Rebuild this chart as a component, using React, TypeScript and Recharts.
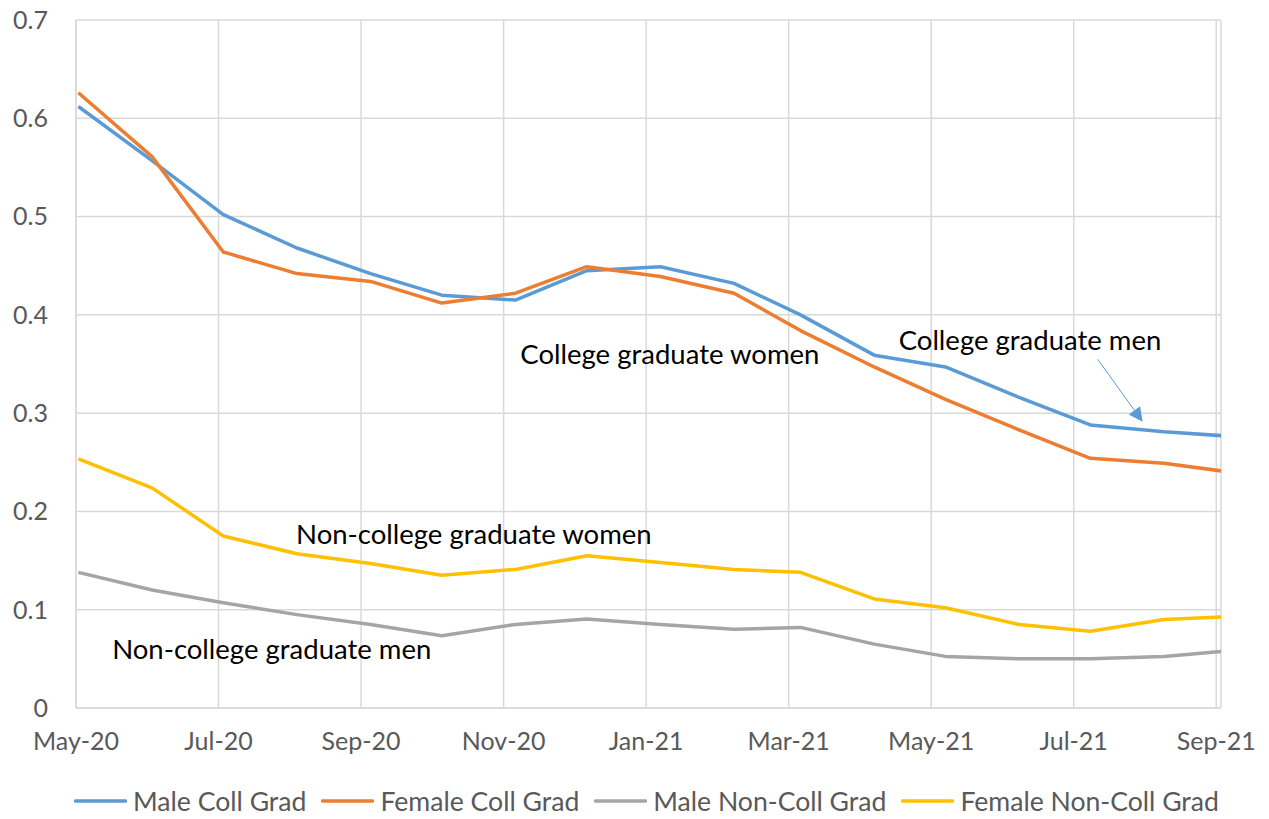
import React from 'react';
import { LineChart, Line, XAxis, YAxis, CartesianGrid, Legend, ReferenceDot, ReferenceLine } from 'recharts';

// x axis is a date axis: day 0 = axis start, ticks every 60 days
const axisStart = '2020-05-14';
const months = [
  '2020-05-15', '2020-06-15', '2020-07-15', '2020-08-15', '2020-09-15', '2020-10-15',
  '2020-11-15', '2020-12-15', '2021-01-15', '2021-02-15', '2021-03-15', '2021-04-15',
  '2021-05-15', '2021-06-15', '2021-07-15', '2021-08-15', '2021-09-15',
];

const maleCollGrad = [0.612, 0.557, 0.502, 0.468, 0.442, 0.42, 0.415, 0.445, 0.449, 0.432, 0.4, 0.359, 0.347, 0.316, 0.288, 0.281, 0.276];
const femaleCollGrad = [0.626, 0.561, 0.464, 0.442, 0.434, 0.412, 0.422, 0.449, 0.439, 0.422, 0.384, 0.347, 0.314, 0.283, 0.254, 0.249, 0.239];
const maleNonCollGrad = [0.138, 0.12, 0.107, 0.095, 0.085, 0.0735, 0.085, 0.0905, 0.085, 0.08, 0.082, 0.065, 0.0525, 0.05, 0.05, 0.0525, 0.059];
const femaleNonCollGrad = [0.2535, 0.224, 0.175, 0.157, 0.147, 0.135, 0.141, 0.155, 0.148, 0.141, 0.138, 0.111, 0.102, 0.085, 0.078, 0.09, 0.0935];

const xTicks = [0, 60, 120, 180, 240, 300, 360, 420, 480];
const xTickLabels = ['May-20', 'Jul-20', 'Sep-20', 'Nov-20', 'Jan-21', 'Mar-21', 'May-21', 'Jul-21', 'Sep-21'];
const yTicks = [0, 0.1, 0.2, 0.3, 0.4, 0.5, 0.6, 0.7];
const yTickLabels = ['0', '0.1', '0.2', '0.3', '0.4', '0.5', '0.6', '0.7'];

const series = [
  { key: 'maleColl', name: 'Male Coll Grad', color: '#5B9BD5', values: maleCollGrad },
  { key: 'femaleColl', name: 'Female Coll Grad', color: '#ED7D31', values: femaleCollGrad },
  { key: 'maleNonColl', name: 'Male Non-Coll Grad', color: '#A5A5A5', values: maleNonCollGrad },
  { key: 'femaleNonColl', name: 'Female Non-Coll Grad', color: '#FFC000', values: femaleNonCollGrad },
];

// text annotations: [day, value, text]
const notes: [number, number, string][] = [
  [250, 0.3597, 'College graduate women'],
  [401.6, 0.374, 'College graduate men'],
  [167.5, 0.1773, 'Non-college graduate women'],
  [82.4, 0.0596, 'Non-college graduate men'],
];
const arrowFrom = { x: 430.1, y: 0.3548 };
const arrowTo = { x: 449, y: 0.2913 };

const FONT = 'Lato, "Open Sans", sans-serif';

const dayOf = (s: string) => (Date.parse(s) - Date.parse(axisStart)) / 86400000;

const data = months.map((m, i) => {
  const row: any = { day: dayOf(m) };
  series.forEach((s) => (row[s.key] = s.values[i]));
  return row;
});

const Arrow = (props: any) => {
  const { x1, y1, x2, y2 } = props;
  const dx = x2 - x1;
  const dy = y2 - y1;
  const len = Math.sqrt(dx * dx + dy * dy);
  const ux = dx / len;
  const uy = dy / len;
  const hl = 14;
  const hw = 7;
  const bx = x2 - ux * hl;
  const by = y2 - uy * hl;
  const pts = `${x2},${y2} ${bx - uy * hw},${by + ux * hw} ${bx + uy * hw},${by - ux * hw}`;
  return (
    <g>
      <line x1={x1} y1={y1} x2={bx} y2={by} stroke="#5B9BD5" strokeWidth={1} />
      <polygon points={pts} fill="#5B9BD5" />
    </g>
  );
};

const renderLegend = () => (
  <div
    style={{
      display: 'flex',
      justifyContent: 'center',
      alignItems: 'center',
      height: 36,
      width: 1269,
      marginLeft: 12,
      fontFamily: FONT,
      fontSize: 26.6,
      color: '#595959',
      whiteSpace: 'nowrap',
    }}
  >
    {series.map((s, i) => (
      <div
        key={s.key}
        style={{ display: 'flex', alignItems: 'center', flexShrink: 0, marginLeft: i === 0 ? 0 : 15 }}
      >
        <svg width={53} height={6} style={{ marginRight: 6, flexShrink: 0 }}>
          <line x1={1.5} y1={3} x2={51.5} y2={3} stroke={s.color} strokeWidth={3.5} strokeLinecap="round" />
        </svg>
        <span>{s.name}</span>
      </div>
    ))}
  </div>
);

export default function App() {
  return (
    <div style={{ position: 'absolute', left: 0, top: 0, background: '#fff' }}>
      <LineChart width={1269} height={819} data={data} margin={{ top: 20, right: 48, left: 0, bottom: 0 }}>
        <CartesianGrid stroke="#D9D9D9" strokeWidth={1.5} />
        <XAxis
          type="number"
          dataKey="day"
          domain={[0, 482]}
          allowDataOverflow
          ticks={xTicks}
          tickFormatter={(v: number) => xTickLabels[xTicks.indexOf(v)]}
          interval={0}
          height={75}
          tickLine={false}
          tickSize={0}
          tickMargin={24}
          axisLine={{ stroke: '#D9D9D9', strokeWidth: 1.5 }}
          tick={{ fill: '#595959', fontSize: 25, fontFamily: FONT }}
        />
        <YAxis
          type="number"
          domain={[0, 0.7]}
          allowDataOverflow
          ticks={yTicks}
          tickFormatter={(v: number) => yTickLabels[yTicks.indexOf(v)]}
          interval={0}
          width={76}
          tickLine={false}
          tickSize={0}
          tickMargin={28}
          axisLine={{ stroke: '#D9D9D9', strokeWidth: 1.5 }}
          tick={{ fill: '#595959', fontSize: 25, fontFamily: FONT }}
        />
        <Legend verticalAlign="bottom" content={renderLegend} wrapperStyle={{ left: 0, width: 1269 }} />
        {series.map((s) => (
          <Line
            key={s.key}
            type="linear"
            dataKey={s.key}
            name={s.name}
            stroke={s.color}
            strokeWidth={3.5}
            strokeLinejoin="round"
            dot={false}
            activeDot={false}
            isAnimationActive={false}
          />
        ))}
        {notes.map(([x, y, text]) => (
          <ReferenceDot
            key={text}
            x={x}
            y={y}
            r={0}
            stroke="none"
            fill="none"
            label={{ value: text, position: 'center', fill: '#000', fontSize: 27.5, fontFamily: FONT }}
          />
        ))}
        <ReferenceLine segment={[arrowFrom, arrowTo]} shape={Arrow} />
      </LineChart>
    </div>
  );
}
